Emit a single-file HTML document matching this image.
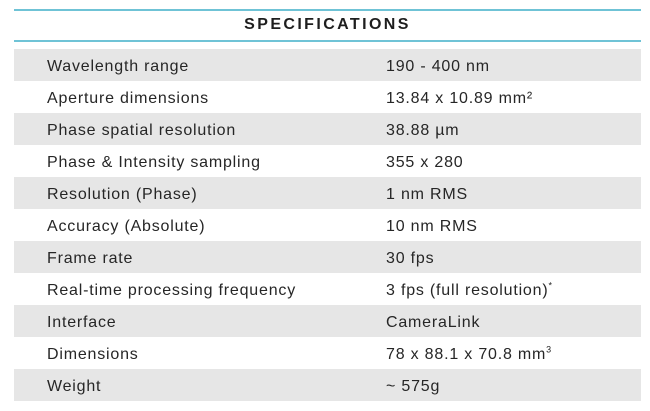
<!DOCTYPE html>
<html><head><meta charset="utf-8"><style>
html,body{margin:0;padding:0;background:#fff;width:650px;height:411px;overflow:hidden;font-family:"Liberation Sans",sans-serif;color:#262626}
.line{position:absolute;left:14px;width:627px;height:2px;background:#6fc3d6}
.title{position:absolute;left:14px;width:627px;top:16px;text-align:center;font-weight:bold;font-size:16px;letter-spacing:2.4px;color:#1e1e1e}
.row{position:absolute;left:14px;width:627px;height:32px;font-size:16px;line-height:36px;letter-spacing:0.8px}
.row.g{background:#e6e6e6}
.k{position:absolute;left:33px}
.v{position:absolute;left:372px}
sup{font-size:9px;line-height:0}
</style></head><body>
<div class="line" style="top:9px"></div>
<div class="title">SPECIFICATIONS</div>
<div class="line" style="top:40px"></div>
<div>
<div class="row g" style="top:49px"><span class="k">Wavelength range</span><span class="v">190 - 400 nm</span></div>
<div class="row" style="top:81px"><span class="k">Aperture dimensions</span><span class="v">13.84 x 10.89 mm²</span></div>
<div class="row g" style="top:113px"><span class="k">Phase spatial resolution</span><span class="v">38.88 µm</span></div>
<div class="row" style="top:145px"><span class="k">Phase &amp; Intensity sampling</span><span class="v">355 x 280</span></div>
<div class="row g" style="top:177px"><span class="k">Resolution (Phase)</span><span class="v">1 nm RMS</span></div>
<div class="row" style="top:209px"><span class="k">Accuracy (Absolute)</span><span class="v">10 nm RMS</span></div>
<div class="row g" style="top:241px"><span class="k">Frame rate</span><span class="v">30 fps</span></div>
<div class="row" style="top:273px"><span class="k">Real-time processing frequency</span><span class="v">3 fps (full resolution)<sup>*</sup></span></div>
<div class="row g" style="top:305px"><span class="k">Interface</span><span class="v">CameraLink</span></div>
<div class="row" style="top:337px"><span class="k">Dimensions</span><span class="v">78 x 88.1 x 70.8 mm<sup>3</sup></span></div>
<div class="row g" style="top:369px"><span class="k">Weight</span><span class="v">~ 575g</span></div>
</div>
</body></html>
